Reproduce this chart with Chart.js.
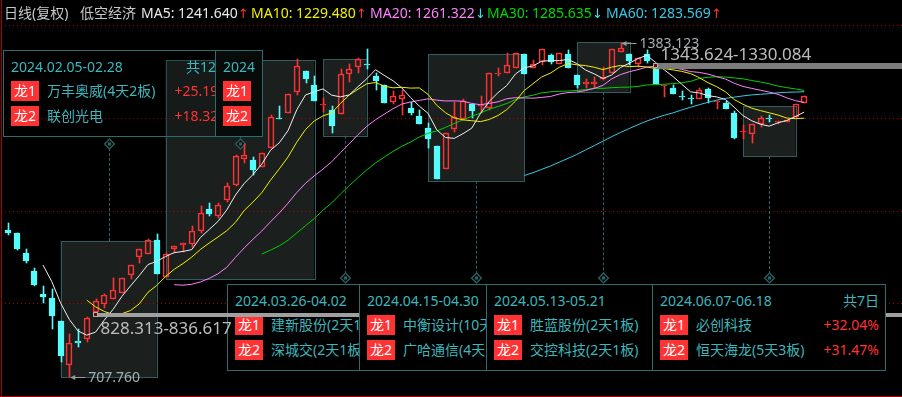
<!DOCTYPE html>
<html>
<head>
<meta charset="utf-8">
<script src="https://cdn.jsdelivr.net/npm/chart.js@4"></script>
<style>
body{margin:0;background:#000}
#wrap{position:relative;width:902px;height:397px;overflow:hidden;background:#000;font-family:"Noto Sans","Noto Sans CJK SC",sans-serif;font-size:14px}
#c{position:absolute;left:0;top:0}
.hd{position:absolute;top:3px;line-height:20px;white-space:nowrap;z-index:5}
.ar{font-family:"DejaVu Sans",sans-serif;font-size:13px}
.ann{position:absolute;box-sizing:border-box;border:1px solid #2b6e70;background:#000;overflow:hidden;white-space:nowrap}
.ann div{position:absolute;line-height:20px}
.t{left:7px;top:6px;color:#3db7bd}
.n{right:6px;top:6px;color:#3db7bd}
.b{left:7px;width:28px;height:20px;background:#ff3333;color:#fff;text-align:center}
.s{left:43px;color:#3db7bd}
.p{right:6px;color:#ff3333}
.gap,.mk,.lbl{position:absolute;z-index:3}
.lbl{white-space:nowrap;line-height:20px}
.edge{position:absolute;background:#a80000;z-index:7}
</style>
</head>
<body>
<div id="wrap">
  <canvas id="c" width="902" height="397"></canvas>
  <div class="hd" style="left:4px;color:#c8c8c8">日线(复权)</div>
  <div class="hd" style="left:80px;color:#c8c8c8">低空经济</div>
  <div class="hd" style="left:141px;color:#eaeaea">MA5: 1241.640<span class="ar" style="color:#ff3333">↑</span></div>
  <div class="hd" style="left:251px;color:#f0f000">MA10: 1229.480<span class="ar" style="color:#ff3333">↑</span></div>
  <div class="hd" style="left:370px;color:#ff80ff">MA20: 1261.322<span class="ar" style="color:#40e0f0">↓</span></div>
  <div class="hd" style="left:487px;color:#00d800">MA30: 1285.635<span class="ar" style="color:#40e0f0">↓</span></div>
  <div class="hd" style="left:606px;color:#3cc8e6">MA60: 1283.569<span class="ar" style="color:#ff3333">↑</span></div>
  <div class="edge" style="left:1px;top:0;width:1px;height:397px"></div>
  <div class="edge" style="left:0;top:396px;width:902px;height:1px"></div>
</div>
<script>
// daily candles (复权 prices)
const open  = [1004.4,997.8,957.3,921.4,874.9,866.8,820.2,731.1,780.3,783.7,838.0,854.6,865.3,876.3,912.7,949.2,955.2,984.2,908.7,965.4,
  974.7,975.5,1003.0,1047.0,1033.4,1065.2,1095.6,1148.8,1146.2,1131.4,1171.1,1231.9,1240.8,1283.3,1325.8,1298.1,1257.6,1247.5,1239.4,1319.7,
  1335.1,1340.6,1316.3,1298.1,1263.0,1269.1,1252.1,1235.3,1210.4,1174.5,1127.4,1208.4,1228.4,1259.0,1256.2,1252.1,1320.4,1321.8,1331.9,1360.8,
  1331.9,1344.0,1358.8,1340.0,1360.8,1318.3,1300.7,1300.7,1309.6,1321.8,1365.5,1360.8,1340.0,1360.8,1330.0,1296.0,1291.4,1275.8,1271.7,1269.1,
  1290.0,1264.3,1262.2,1242.0,1202.7,1198.2,1219.1,1231.2,1223.8,1222.5,1233.9,1261.0];
const high  = [1019.2,998.4,966.0,928.1,891.1,884.4,820.2,794.5,803.4,828.3,864.7,874.9,906.6,907.2,933.0,966.0,986.0,996.4,958.0,972.7,
  977.5,1012.6,1053.1,1058.5,1059.8,1099.0,1156.3,1178.6,1151.7,1160.4,1238.0,1256.2,1279.2,1350.7,1327.0,1316.9,1271.1,1255.6,1329.9,1340.6,
  1352.1,1370.4,1321.8,1298.1,1286.0,1288.0,1264.3,1247.5,1220.5,1174.5,1200.3,1264.3,1269.1,1259.0,1275.8,1321.8,1331.9,1363.5,1362.3,1360.8,
  1348.7,1370.4,1360.8,1362.3,1369.0,1318.3,1309.6,1314.9,1335.1,1370.4,1383.123,1360.8,1352.1,1369.0,1330.084,1298.1,1298.1,1285.9,1277.8,1291.4,
  1291.4,1265.7,1265.7,1245.4,1217.1,1218.5,1235.3,1237.3,1225.2,1227.0,1259.0,1275.8];
const low   = [994.9,964.0,937.0,891.1,856.0,803.4,736.5,707.76,768.1,777.0,836.617,845.9,865.3,876.3,905.8,938.2,955.2,914.7,908.7,957.3,
  960.5,970.6,999.0,1033.4,1028.1,1060.5,1094.2,1139.5,1115.8,1131.4,1171.1,1229.8,1240.8,1277.8,1301.5,1266.3,1244.0,1200.3,1239.4,1303.5,
  1321.8,1329.9,1287.9,1262.2,1259.6,1237.3,1237.3,1219.1,1169.9,1107.7,1127.4,1203.5,1227.2,1230.6,1240.8,1248.1,1316.9,1321.8,1331.9,1320.4,
  1331.9,1338.6,1340.0,1340.0,1333.1,1291.4,1292.6,1291.4,1308.2,1321.8,1365.5,1338.6,1335.1,1343.624,1299.5,1273.2,1279.2,1267.7,1259.6,1269.1,
  1261.0,1249.5,1248.9,1188.1,1188.1,1180.0,1213.6,1222.5,1218.5,1222.5,1230.6,1261.0];
const close = [997.8,965.4,942.3,893.7,868.2,830.9,749.9,775.0,776.2,825.6,861.3,872.2,882.3,907.2,933.0,966.0,984.2,914.7,955.9,972.7,
  977.5,1003.0,1038.3,1036.2,1054.5,1093.5,1154.3,1155.7,1125.9,1159.8,1233.9,1229.8,1279.2,1336.5,1310.2,1266.3,1259.0,1215.0,1319.7,1329.9,
  1350.1,1338.6,1306.8,1262.2,1275.8,1277.8,1242.0,1219.1,1189.3,1107.7,1200.3,1233.9,1266.3,1245.4,1257.6,1321.8,1321.8,1338.6,1362.3,1320.4,
  1340.0,1370.4,1344.0,1362.3,1333.1,1298.1,1304.7,1304.7,1314.9,1370.4,1373.6,1347.3,1352.1,1347.3,1299.5,1298.1,1279.2,1274.4,1270.3,1287.9,
  1271.1,1265.7,1248.9,1191.4,1203.5,1218.5,1230.6,1230.0,1225.2,1226.6,1259.0,1275.8];

const maPeriods = [5, 10, 20, 30, 60];
const maColors  = ['#f0f0f0', '#f0f000', '#ff80ff', '#00d000', '#3cc8e6'];

// dotted price guides
const gridPrices = [856.6, 1042.9, 1231.2, 1419.6];

// shaded ranges on the chart (candle index span, price span)
const boxFrom = [6, 18, 36, 48, 65, 84];
const boxTo   = [17, 35, 41, 59, 71, 90];
const boxHigh = [982.2, 1348.7, 1350.7, 1360.9, 1384.5, 1255.5];
const boxLow  = [706.2, 904.6, 1195.4, 1104.3, 1283.3, 1154.3];

// price gaps
const gapFrom = [10, 74];
const gapLow  = [828.313, 1330.084];
const gapHigh = [836.617, 1343.624];
const gapText = ['828.313-836.617', '1343.624-1330.084'];

// extremes
const extIdx  = [70, 7];
const extText = ['1383.123', '707.760'];

const RED = '#ff3232', CYAN = '#54fcfc';
const idx = close.map((_, i) => i);
const up = i => close[i] >= open[i];

// moving averages of the closes above
function movingAvg(n) {
  return idx.filter(i => i >= n - 1).map(i => ({
    x: i, y: close.slice(i - n + 1, i + 1).reduce((a, b) => a + b, 0) / n
  }));
}

const overlay = {
  id: 'overlay',
  beforeDatasetsDraw(chart) {
    const {ctx, scales: {x, y}} = chart;
    // snap candle rects to whole pixels so they stay crisp
    chart.data.datasets.forEach((ds, k) => {
      if (ds.type !== 'bar') return;
      const wick = ds.barThickness === 1;
      chart.getDatasetMeta(k).data.forEach(el => {
        el.x = Math.round(el.x) + (wick ? 0.5 : 0);
        el.y = Math.round(el.y);
        el.base = Math.round(el.base);
        if (!wick && Math.abs(el.base - el.y) < 1) el.base = el.y + 1;
      });
    });
    ctx.save();
    // shaded ranges
    boxFrom.forEach((f, k) => {
      const l = x.getPixelForValue(f), r = x.getPixelForValue(boxTo[k]);
      const t = y.getPixelForValue(boxHigh[k]), b = y.getPixelForValue(boxLow[k]);
      ctx.fillStyle = '#1b201e';
      ctx.fillRect(l, t, r - l, b - t);
      ctx.strokeStyle = '#2e5e60';
      ctx.lineWidth = 1;
      ctx.strokeRect(Math.round(l) + 0.5, Math.round(t) + 0.5, Math.round(r - l), Math.round(b - t));
    });
    // red dotted guides
    ctx.strokeStyle = '#b00000';
    ctx.setLineDash([1, 3]);
    gridPrices.forEach(p => {
      const yy = Math.round(y.getPixelForValue(p)) + 0.5;
      ctx.beginPath(); ctx.moveTo(5, yy); ctx.lineTo(902, yy); ctx.stroke();
    });
    // connectors to the notes
    ctx.strokeStyle = '#2f6264';
    ctx.setLineDash([3, 2]);
    boxFrom.forEach((f, k) => {
      const cx = Math.round(x.getPixelForValue((f + boxTo[k]) / 2)) + 0.5;
      const top = k < 2;
      const dy = top ? 144 : 278;
      const from = top ? y.getPixelForValue(boxHigh[k]) : y.getPixelForValue(boxLow[k]);
      ctx.beginPath(); ctx.moveTo(cx, from); ctx.lineTo(cx, dy); ctx.stroke();
      ctx.setLineDash([]);
      ctx.fillStyle = '#061010';
      ctx.beginPath();
      ctx.moveTo(cx, dy - 5); ctx.lineTo(cx + 5, dy); ctx.lineTo(cx, dy + 5); ctx.lineTo(cx - 5, dy); ctx.closePath();
      ctx.fill(); ctx.lineWidth = 1.2; ctx.stroke();
      ctx.fillStyle = '#2f6264';
      ctx.fillRect(cx - 1.5, dy - 1.5, 3, 3);
      ctx.lineWidth = 1;
      ctx.setLineDash([3, 2]);
    });
    ctx.restore();
  },
  afterDatasetsDraw(chart) {
    const {ctx, scales: {x, y}} = chart;
    ctx.save();
    ctx.strokeStyle = '#9a9a9a';
    ctx.fillStyle = '#9a9a9a';
    extIdx.forEach((i, k) => {
      const px = x.getPixelForValue(i) + 1;
      const py = Math.round(y.getPixelForValue(k === 0 ? high[i] : low[i])) + 0.5;
      ctx.beginPath(); ctx.moveTo(px + 3, py); ctx.lineTo(px + 15, py); ctx.stroke();
      ctx.beginPath(); ctx.moveTo(px, py); ctx.lineTo(px + 5, py - 2.5); ctx.lineTo(px + 5, py + 2.5); ctx.closePath(); ctx.fill();
    });
    ctx.restore();
  }
};

const datasets = maPeriods.map((n, k) => ({
  type: 'line',
  data: movingAvg(n),
  borderColor: maColors[k],
  borderWidth: 1,
  pointRadius: 0,
  tension: 0,
  order: 0
}));

datasets.push({
  type: 'bar',
  data: idx.map(i => ({x: i, y: [open[i], close[i]]})),
  backgroundColor: c => up(c.dataIndex) ? 'rgba(0,0,0,0)' : CYAN,
  borderColor: c => up(c.dataIndex) ? RED : CYAN,
  borderWidth: 1,
  borderSkipped: false,
  barThickness: 6,
  minBarLength: 1,
  grouped: false,
  order: 1
});
// upper and lower shadows
datasets.push({
  type: 'bar',
  data: idx.map(i => ({x: i, y: [Math.max(open[i], close[i]), high[i]]})),
  backgroundColor: c => up(c.dataIndex) ? RED : CYAN,
  barThickness: 1,
  grouped: false,
  order: 2
});
datasets.push({
  type: 'bar',
  data: idx.map(i => ({x: i, y: [low[i], Math.min(open[i], close[i])]})),
  backgroundColor: c => up(c.dataIndex) ? RED : CYAN,
  barThickness: 1,
  grouped: false,
  order: 2
});

const chart = new Chart(document.getElementById('c'), {
  data: {datasets},
  options: {
    responsive: false,
    animation: false,
    events: [],
    layout: {padding: 0},
    plugins: {legend: {display: false}, tooltip: {enabled: false}},
    scales: {
      x: {type: 'linear', display: false, offset: false, min: -0.9143, max: 102.171},
      y: {type: 'linear', display: false, min: 666.3, max: 1470.2}
    }
  },
  plugins: [overlay]
});

// HTML parts placed through the chart scales
const wrap = document.getElementById('wrap');
const xs = chart.scales.x, ys = chart.scales.y;
function add(cls, css, html) {
  const d = document.createElement('div');
  d.className = cls;
  d.style.cssText = css;
  if (html) d.innerHTML = html;
  wrap.appendChild(d);
  return d;
}

gapFrom.forEach((f, k) => {
  const l = xs.getPixelForValue(f), t = ys.getPixelForValue(gapHigh[k]), b = ys.getPixelForValue(gapLow[k]);
  add('gap', `left:${l}px;top:${t}px;width:${902 - l}px;height:${b - t}px;background:${k ? '#7c7c7c' : '#a0a0a0'}`);
  add('mk', `left:${l - 2.5}px;top:${(t + b) / 2 - 2.5}px;width:3px;height:3px;background:#6a0808;border:1px solid #b0b0b0`);
  const top = k ? t - 19 : b + 1;
  add('lbl', `left:${l + 5}px;top:${top}px;font-size:17px;color:#bdbdbd`, gapText[k]);
});
extIdx.forEach((i, k) => {
  const v = k === 0 ? high[i] : low[i];
  add('lbl', `left:${xs.getPixelForValue(i) + 19}px;top:${ys.getPixelForValue(v) - 10}px;color:#a9aeb4`, extText[k]);
});

// note panels
function note(left, top, width, z, bg, title, total, rows) {
  let h = `<div class="t">${title}</div>`;
  if (total) h += `<div class="n">${total}</div>`;
  rows.forEach((r, j) => {
    const y = 30 + j * 25;
    h += `<div class="b" style="top:${y}px">${r[0]}</div>`;
    if (r[1]) h += `<div class="s" style="top:${y}px">${r[1]}</div>`;
    if (r[2]) h += `<div class="p" style="top:${y}px">${r[2]}</div>`;
  });
  add('ann', `left:${left}px;top:${top}px;width:${width}px;height:87px;z-index:${z};background:${bg}`, h);
}
note(3, 50, 234, 2, 'rgba(0,0,0,0.15)', '2024.02.05-02.28', '共12日',
  [['龙1', '万丰奥威(4天2板)', '+25.19%'], ['龙2', '联创光电', '+18.32%']]);
note(215, 50, 48, 3, '#070b0a', '2024', '', [['龙1'], ['龙2']]);
note(227, 284, 234, 2, '#000', '2024.03.26-04.02', '', [['龙1', '建新股份(2天1板)'], ['龙2', '深城交(2天1板)']]);
note(359, 284, 234, 4, '#000', '2024.04.15-04.30', '', [['龙1', '中衡设计(10天'], ['龙2', '广哈通信(4天']]);
note(486, 284, 234, 5, '#000', '2024.05.13-05.21', '', [['龙1', '胜蓝股份(2天1板)'], ['龙2', '交控科技(2天1板)']]);
note(652, 284, 234, 6, '#000', '2024.06.07-06.18', '共7日',
  [['龙1', '必创科技', '+32.04%'], ['龙2', '恒天海龙(5天3板)', '+31.47%']]);
</script>
</body>
</html>
